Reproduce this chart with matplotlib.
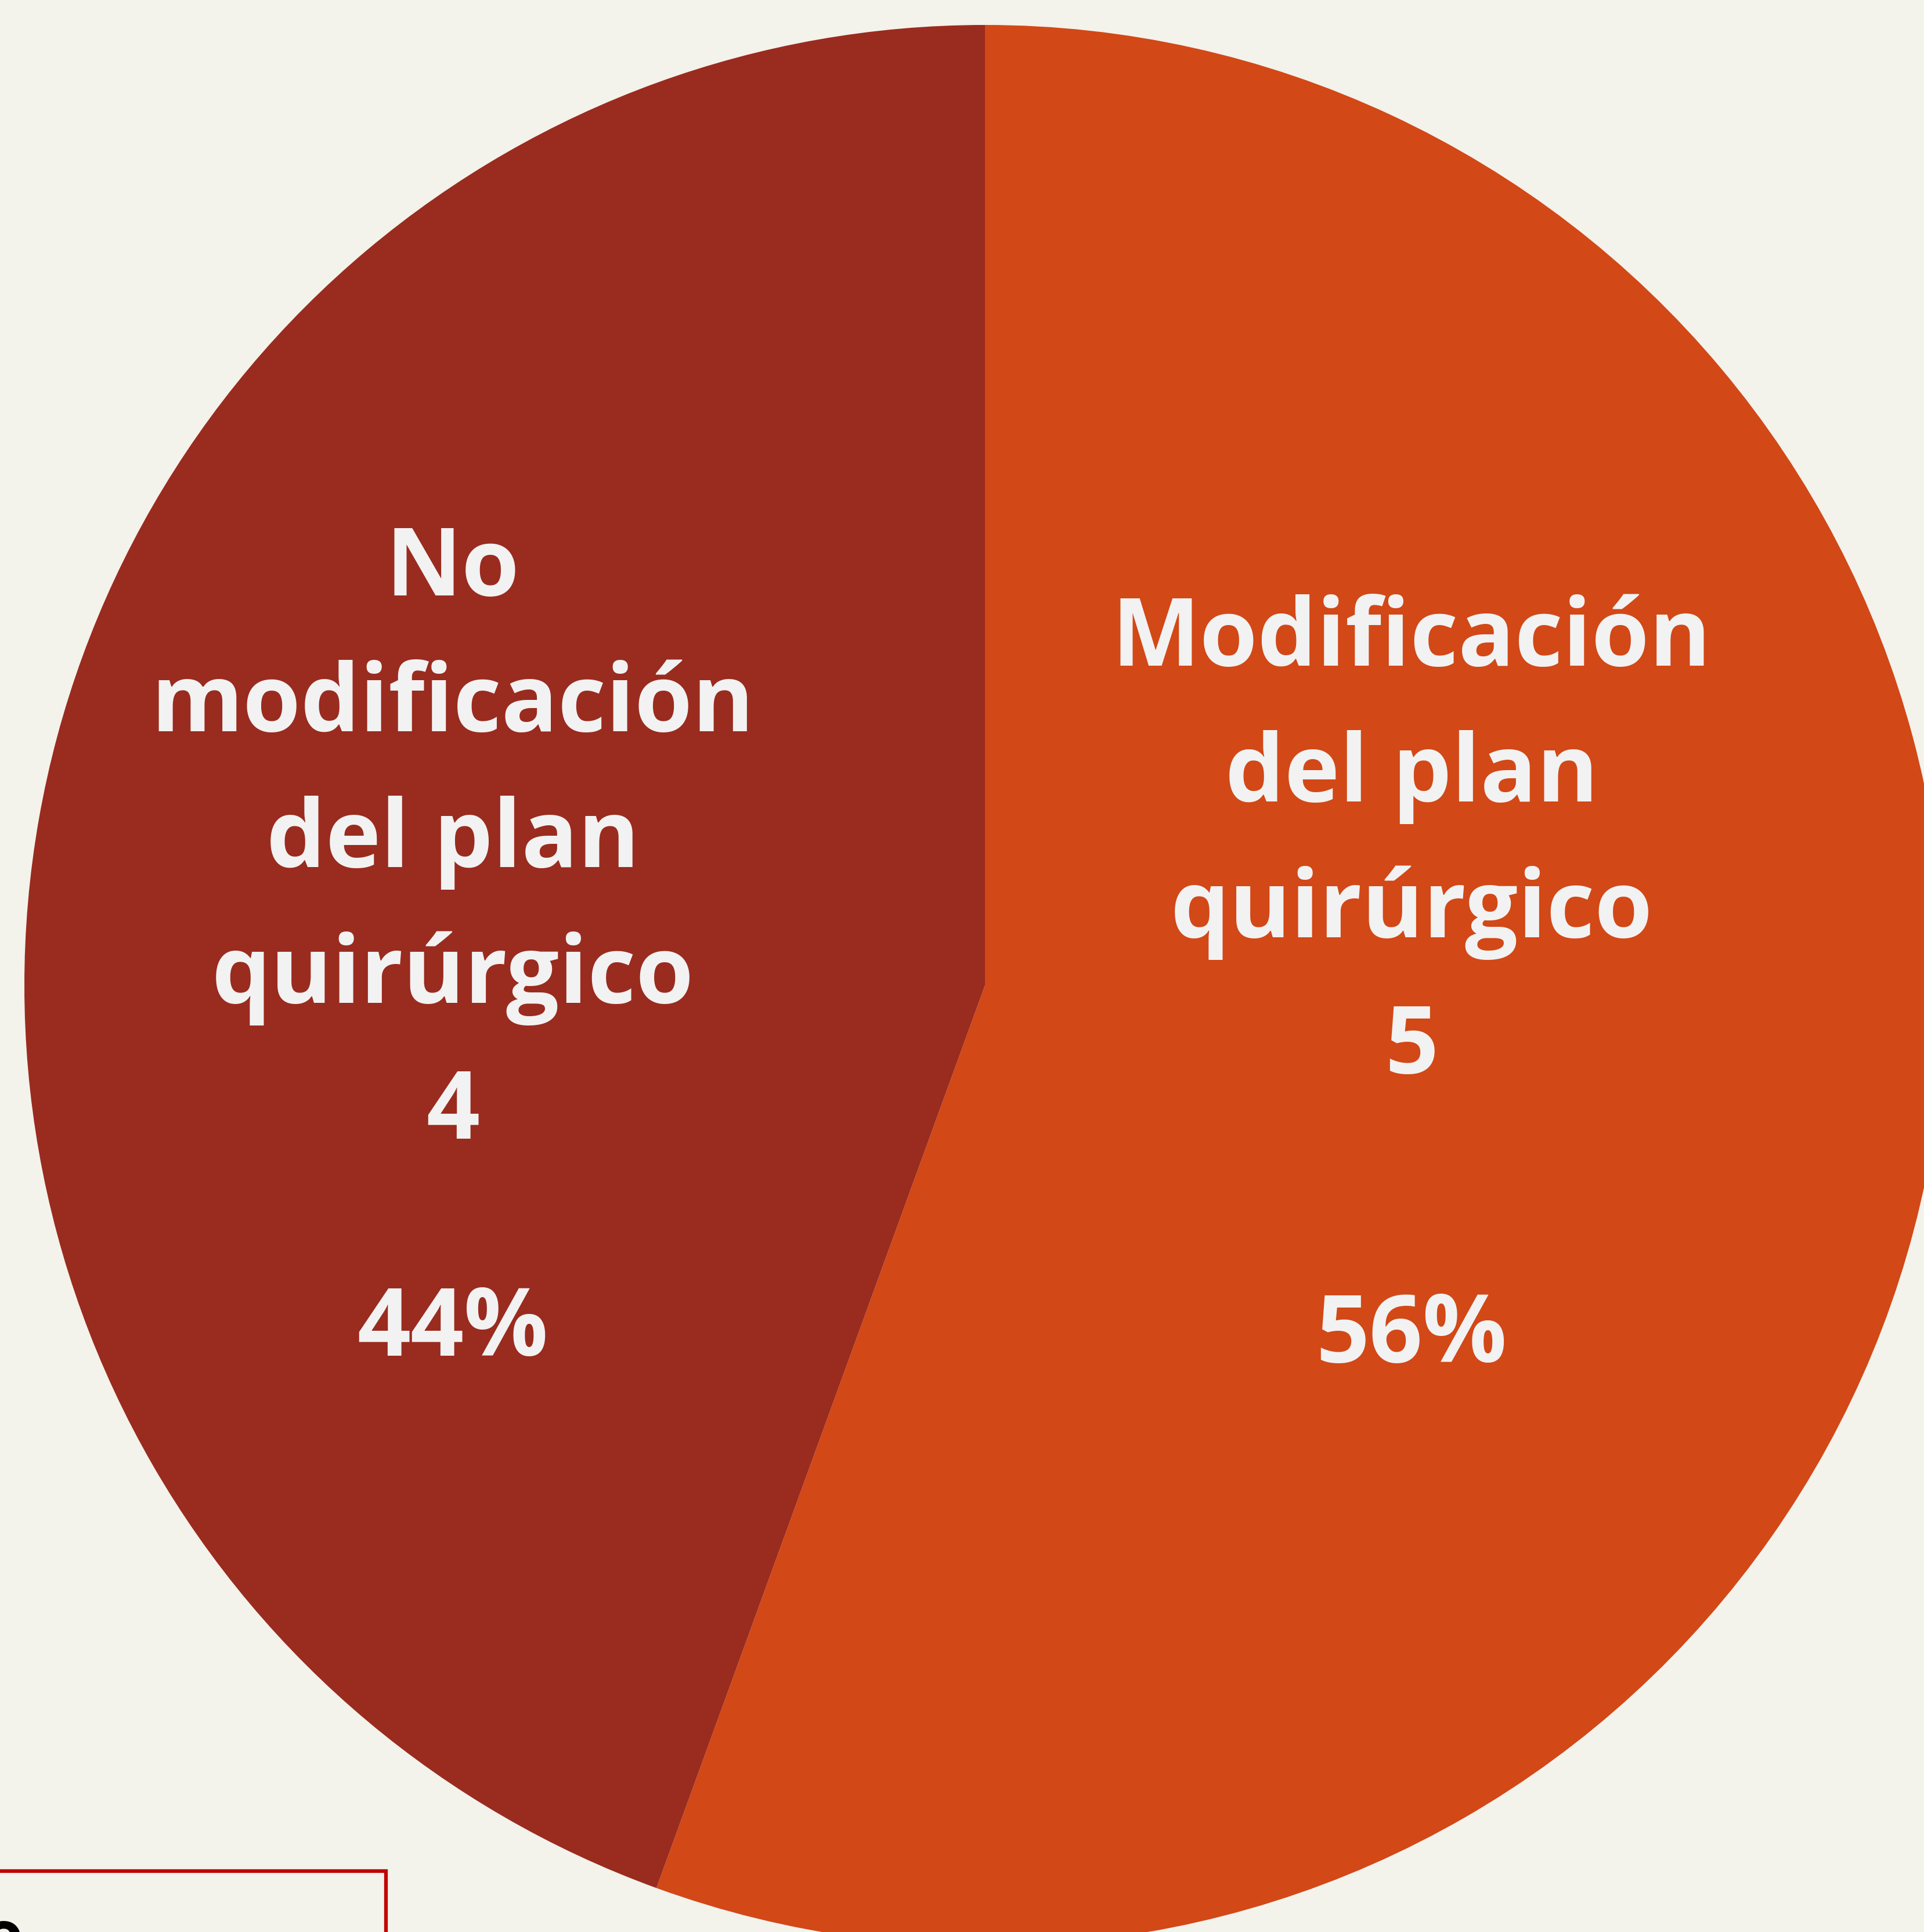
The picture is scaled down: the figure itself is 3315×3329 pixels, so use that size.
import matplotlib.pyplot as plt
from matplotlib.patches import Rectangle

# data
categorias = [["Modificación", "del plan", "quirúrgico"],
              ["No", "modificación", "del plan", "quirúrgico"]]
valores = [5, 4]
colores = ["#D24817", "#9A2B1F"]

W, H = 3315, 3329
fig = plt.figure(figsize=(W / 100, H / 100), dpi=100, facecolor="#F3F2EB")
ax = fig.add_axes([0, 0, 1, 1])
ax.set_facecolor("#F3F2EB")

cx, cy, r = 1697, H - 1698, 1655
wedges, _ = ax.pie(valores, colors=colores, startangle=90, counterclock=False,
                   center=(cx, cy), radius=r, frame=True,
                   wedgeprops=dict(linewidth=0))

total = sum(valores)
# label layout: centre x, first baseline, baseline of the % line (image px, from top)
layout = [(2432, 1147, 2347), (780, 1026, 2336)]
step = 234
for lines, v, (x0, y0, ypct) in zip(categorias, valores, layout):
    pct = round(100 * v / total)
    rows = lines + [str(v)]
    for i, s in enumerate(rows):
        ax.text(x0, H - (y0 + i * step), s, ha="center", va="baseline",
                color="#F2F2F2", fontsize=116, fontweight="bold", family="Open Sans")
    ax.text(x0, H - ypct, f"{pct}%", ha="center", va="baseline",
            color="#F2F2F2", fontsize=116, fontweight="bold", family="Open Sans")

# bottom-left box (cut off by the image edge)
ax.add_patch(Rectangle((-20, -200), 685, 200 + (H - 3224), fill=False,
                       edgecolor="#C00000", linewidth=4.5))
ax.text(-28, H - 3372, "o", ha="left", va="baseline", color="black", fontsize=80,
        fontweight="bold", family="Open Sans")

ax.set_xlim(0, W)
ax.set_ylim(0, H)
ax.set_aspect("equal")
ax.axis("off")

plt.savefig("out.png", dpi=100, facecolor=fig.get_facecolor())
